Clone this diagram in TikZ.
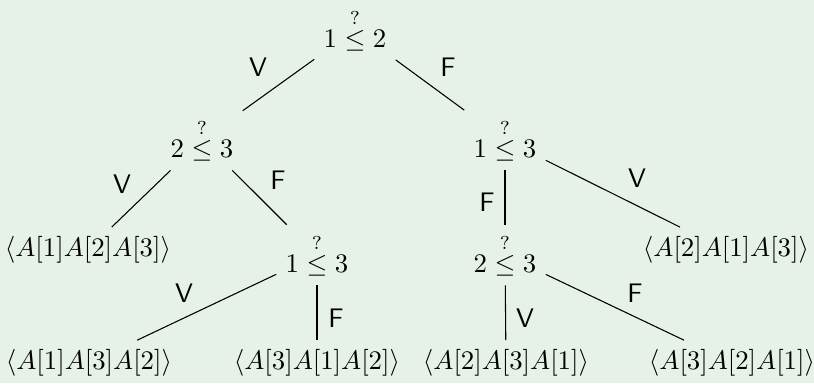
\documentclass[tikz,border=0pt]{standalone}
\usepackage{amsmath}
\definecolor{bgc}{HTML}{E6F2E8}
\begin{document}
\begin{tikzpicture}[x=0.373pt,y=-0.373pt,
  tn/.style={inner sep=0.3333em},
  lab/.style={font=\sffamily, inner sep=0pt}]
\fill[bgc] (0,0) rectangle (814,383);
\useasboundingbox (0,0) rectangle (814,383);
% decision nodes
\node[tn] (r) at (355,30) {$1 \stackrel{?}{\leq} 2$};
\node[tn] (a) at (202,140) {$2 \stackrel{?}{\leq} 3$};
\node[tn] (b) at (505,140) {$1 \stackrel{?}{\leq} 3$};
\node[tn] (c) at (317,255) {$1 \stackrel{?}{\leq} 3$};
\node[tn] (d) at (505,255) {$2 \stackrel{?}{\leq} 3$};
% leaves
\node[tn] (l1) at (88,250) {$\langle A[1]A[2]A[3]\rangle$};
\node[tn] (l2) at (726,250) {$\langle A[2]A[1]A[3]\rangle$};
\node[tn] (e1) at (89,363) {$\langle A[1]A[3]A[2]\rangle$};
\node[tn] (e2) at (317,363) {$\langle A[3]A[1]A[2]\rangle$};
\node[tn] (e3) at (506,363) {$\langle A[2]A[3]A[1]\rangle$};
\node[tn] (e4) at (732,363) {$\langle A[3]A[2]A[1]\rangle$};
% edges
\draw (r) -- (a);
\draw (r) -- (b);
\draw (a) -- (l1);
\draw (a) -- (c);
\draw (b) -- (l2);
\draw (b) -- (d);
\draw (c) -- (e1);
\draw (c) -- (e2);
\draw (d) -- (e3);
\draw (d) -- (e4);
% labels
\node[lab] (t1) at (258,67) {V};
\node[lab] (t2) at (448,67) {F};
\node[lab] (t3) at (122,184) {V};
\node[lab] (t4) at (278,180) {F};
\node[lab] (t5) at (637,178) {V};
\node[lab] (t6) at (487,202) {F};
\node[lab] (t7) at (184,293) {V};
\node[lab] (t8) at (336,318) {F};
\node[lab] (t9) at (525,318) {V};
\node[lab] (t10) at (635,293) {F};
\end{tikzpicture}
\end{document}
